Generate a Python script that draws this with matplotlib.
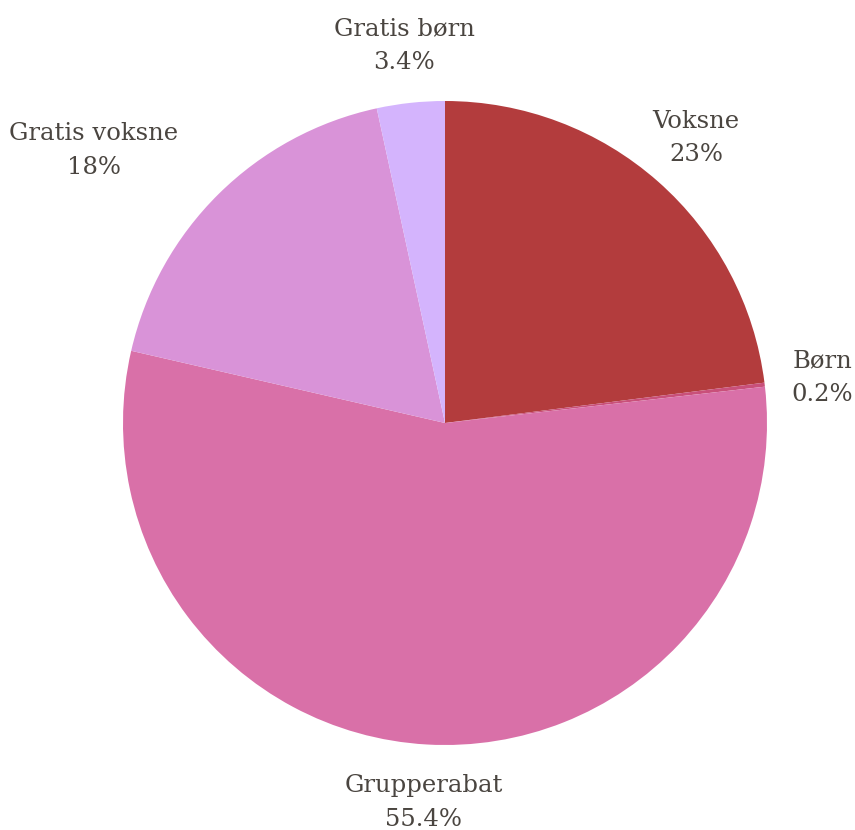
import numpy as np
import matplotlib
matplotlib.use("Agg")
import matplotlib.pyplot as plt

plt.rcParams['font.family'] = ['DejaVu Serif', 'DejaVu Sans']

# data
labels = ['Voksne', 'Børn', 'Grupperabat', 'Gratis voksne', 'Gratis børn']
values = [23.0, 0.2, 55.4, 18.0, 3.4]
pct_text = ['23%', '0.2%', '55.4%', '18%', '3.4%']
colors = ['#b33c3d', '#c9507a', '#d970a8', '#d993d8', '#d4b4fd']

fig = plt.figure(figsize=(8.55, 8.3), dpi=100)
ax = fig.add_axes([0, 0, 1, 1])

wedges, _ = ax.pie(values, colors=colors, startangle=90, counterclock=False,
                   radius=1.0, wedgeprops=dict(linewidth=0))

# pixel layout: center (445, 423), radius 322 px
ax.set_xlim(-445 / 322, (855 - 445) / 322)
ax.set_ylim(-(830 - 423) / 322, 423 / 322)
ax.set_aspect('equal')
ax.axis('off')

# label box centres sit on the mid-angle ray; the left one is pushed out
# further so it clears the pie edge
nudge = {'Gratis voksne': (1.38, 7.6)}

for w, lab, pt in zip(wedges, labels, pct_text):
    mid = (w.theta1 + w.theta2) / 2
    r, dang = nudge.get(lab, (1.18, 0.0))
    ang = np.deg2rad(mid + dang)
    ax.text(r * np.cos(ang), r * np.sin(ang), lab + '\n' + pt,
            ha='center', va='center', multialignment='center',
            fontsize=17.5, color='#4a4540', linespacing=1.6)

fig.savefig('out.png', dpi=100, facecolor='white')
